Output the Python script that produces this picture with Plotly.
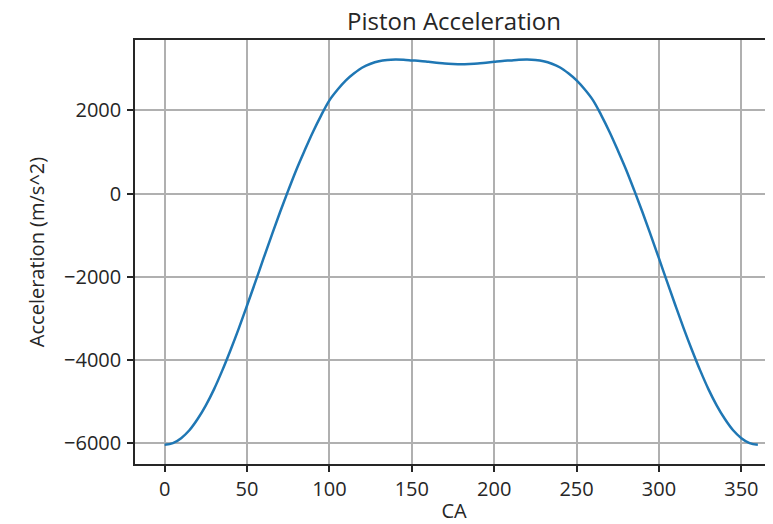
import plotly.graph_objects as go

crank_angle = [0, 5, 10, 15, 20, 25, 30, 35, 40, 45, 50, 55, 60, 65, 70, 75, 80, 85, 90, 95,
               100, 105, 110, 115, 120, 125, 130, 135, 140, 145, 150, 155, 160, 165, 170, 175, 180,
               185, 190, 195, 200, 205, 210, 215, 220, 225, 230, 235, 240, 245, 250, 255, 260, 265,
               270, 275, 280, 285, 290, 295, 300, 305, 310, 315, 320, 325, 330, 335, 340, 345, 350,
               355, 360]
acceleration = [-6040, -6000, -5880, -5690, -5420, -5090, -4700, -4250, -3760, -3240, -2690, -2130,
                -1560, -1000, -450, 75, 580, 1040, 1480, 1880, 2240, 2500, 2720, 2890, 3030, 3120,
                3180, 3210, 3220, 3215, 3200, 3185, 3165, 3145, 3125, 3115, 3110,
                3115, 3125, 3145, 3165, 3185, 3200, 3215, 3220, 3210, 3180, 3120, 3030, 2890, 2720,
                2500, 2240, 1880, 1480, 1040, 580, 75, -450, -1000, -1560, -2130, -2690, -3240,
                -3760, -4250, -4700, -5090, -5420, -5690, -5880, -6000, -6040]
x_ticks = [0, 50, 100, 150, 200, 250, 300, 350]
y_ticks = [-6000, -4000, -2000, 0, 2000]

fig = go.Figure()
fig.add_trace(go.Scatter(x=crank_angle, y=acceleration, mode="lines",
                         line=dict(color="#1f77b4", width=2.5, shape="spline", smoothing=1.0),
                         showlegend=False))

FONT = "Open Sans"
fig.update_layout(
    width=765, height=516,
    margin=dict(l=127, r=0, t=32, b=60),
    paper_bgcolor="white", plot_bgcolor="white",
    font=dict(family=FONT, size=20, color="#262626"),
    title=dict(text="Piston Acceleration", x=0.5, xref="paper", xanchor="center",
               y=(516 - 14) / 516, yref="container", yanchor="middle",
               font=dict(family=FONT, size=24, color="#262626")),
)
fig.update_xaxes(range=[-18, 369.2], tickvals=x_ticks, ticks="outside", ticklen=6, tickwidth=1.5,
                 tickcolor="#262626", showline=True, linecolor="#262626", linewidth=1.5, mirror=True,
                 showgrid=True, gridcolor="#b0b0b0", gridwidth=1.5, zeroline=False,
                 tickfont=dict(family=FONT, size=20),
                 title=dict(text="CA", standoff=4, font=dict(family=FONT, size=20)))
fig.update_yaxes(range=[-6500, 3690], tickvals=y_ticks, ticks="outside", ticklen=6, tickwidth=1.5,
                 tickcolor="#262626", showline=True, linecolor="#262626", linewidth=1.5, mirror=False,
                 showgrid=True, gridcolor="#b0b0b0", gridwidth=1.5, zeroline=False,
                 tickfont=dict(family=FONT, size=20), ticklabelstandoff=2,
                 title=dict(text="Acceleration (m/s^2)", standoff=14, font=dict(family=FONT, size=20)))

fig.write_html("out.html")
